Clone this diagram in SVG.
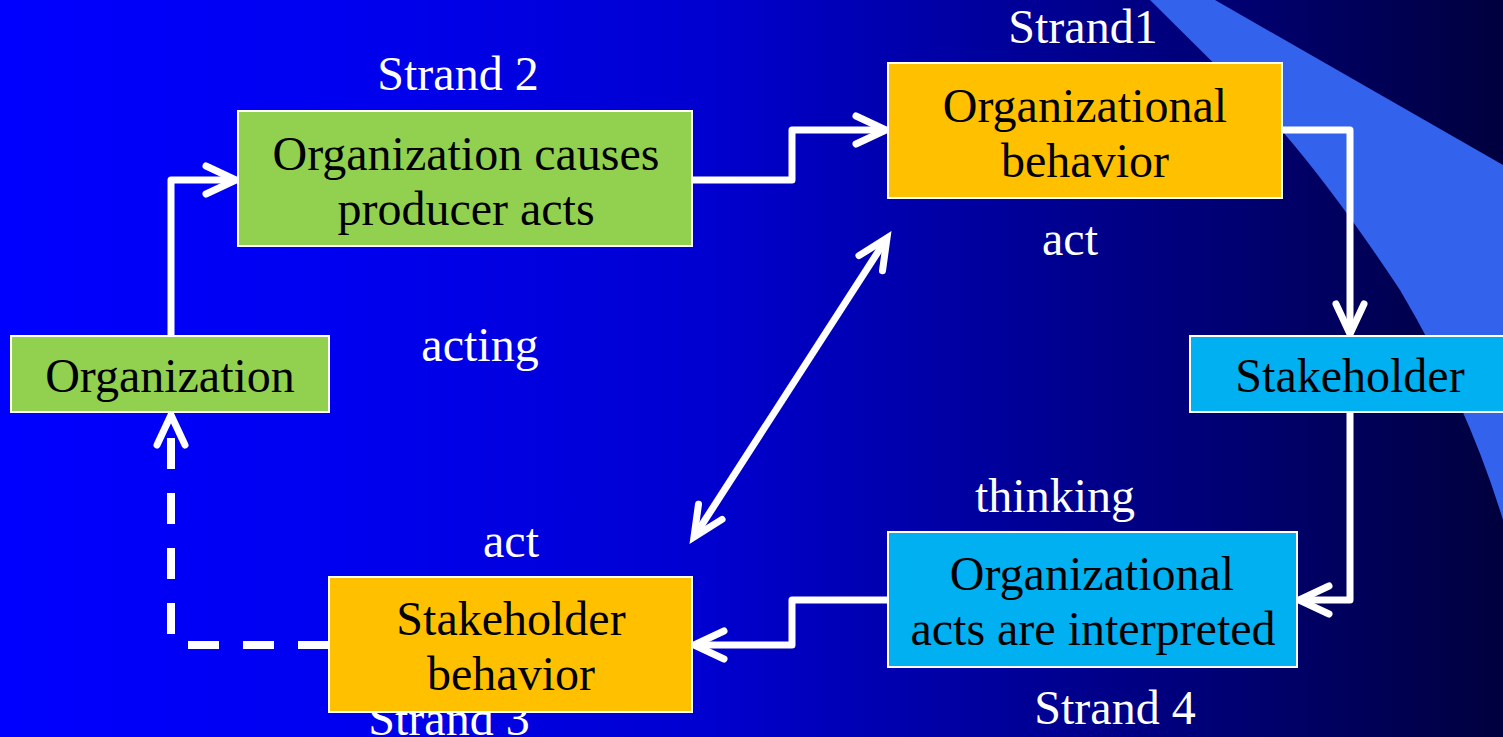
<svg xmlns="http://www.w3.org/2000/svg" width="1503" height="737" viewBox="0 0 1503 737">
  <style>
    .box { stroke: #ffffff; stroke-width: 2; }
    .green { fill: #92D050; }
    .orange { fill: #FFC000; }
    .cyan { fill: #00B0F0; }
    text { font-family: 'Liberation Serif', 'DejaVu Serif', 'Times New Roman', serif; font-size: 48px; text-anchor: middle; }
    .node-text { fill: #000000; }
    .label { fill: #ffffff; }
    .link { fill: none; stroke: #ffffff; stroke-width: 7; stroke-linejoin: round; }
    .dashed { fill: none; stroke: #ffffff; stroke-width: 8; stroke-dasharray: 31 24; }
  </style>
  <defs>
    <linearGradient id="bg" x1="0" y1="0" x2="1" y2="0">
      <stop offset="0" stop-color="#0000FF"/>
      <stop offset="0.23" stop-color="#0000F0"/>
      <stop offset="0.47" stop-color="#0000D0"/>
      <stop offset="0.67" stop-color="#00009A"/>
      <stop offset="0.83" stop-color="#000070"/>
      <stop offset="1" stop-color="#00003E"/>
    </linearGradient>
    <marker id="arrow" markerUnits="userSpaceOnUse" viewBox="-40 -20 44 40" refX="0" refY="0" markerWidth="44" markerHeight="40" orient="auto-start-reverse" overflow="visible">
      <path d="M -30 -14 L 0 0 L -30 14" fill="none" stroke="#ffffff" stroke-width="7" stroke-linecap="round" stroke-linejoin="miter"/>
    </marker>
  </defs>

  <!-- backdrop -->
  <rect x="0" y="0" width="1503" height="737" fill="url(#bg)"/>
  <path d="M 1150 0 L 1215 0 L 1503 165 L 1503 520 Q 1468 405 1400 290 Q 1337 195 1283 132 Z" fill="#3363EC"/>

  <!-- free labels (drawn below the boxes) -->
  <g id="labels">
    <text class="label" x="458" y="90">Strand 2</text>
    <text class="label" x="1083" y="43">Strand1</text>
    <text class="label" x="1070" y="255">act</text>
    <text class="label" x="480" y="361">acting</text>
    <text class="label" x="1055" y="512">thinking</text>
    <text class="label" x="511" y="557">act</text>
    <text class="label" x="1115" y="724">Strand 4</text>
    <text class="label" x="449" y="735">Strand 3</text>
  </g>

  <!-- connectors -->
  <g id="connectors">
    <path class="link" d="M 171 336 L 171 180 L 236 180" marker-end="url(#arrow)"/>
    <path class="link" d="M 692 180 L 792 180 L 792 130 L 886 130" marker-end="url(#arrow)"/>
    <path class="link" d="M 1282 130 L 1350 130 L 1350 334" marker-end="url(#arrow)"/>
    <path class="link" d="M 1350 412 L 1350 600 L 1299 600" marker-end="url(#arrow)"/>
    <path class="link" d="M 888 600 L 792 600 L 792 645 L 694 645" marker-end="url(#arrow)"/>
    <path class="link" d="M 694 537 L 887 238" marker-start="url(#arrow)" marker-end="url(#arrow)"/>
    <path class="dashed" d="M 329 645 L 186 645"/>
    <path class="dashed" d="M 171 634 L 171 415" marker-end="url(#arrow)"/>
  </g>

  <g id="node-producer-acts">
    <rect class="box green" x="238" y="111" width="454" height="135"/>
    <text class="node-text" x="466" y="170">Organization causes</text>
    <text class="node-text" x="466" y="225">producer acts</text>
  </g>

  <g id="node-org-behavior">
    <rect class="box orange" x="888" y="63" width="394" height="135"/>
    <text class="node-text" x="1085" y="122">Organizational</text>
    <text class="node-text" x="1085" y="177">behavior</text>
  </g>

  <g id="node-stakeholder">
    <rect class="box cyan" x="1190" y="336" width="320" height="76"/>
    <text class="node-text" x="1350" y="392">Stakeholder</text>
  </g>

  <g id="node-interpreted">
    <rect class="box cyan" x="888" y="532" width="409" height="135"/>
    <text class="node-text" x="1092" y="590">Organizational</text>
    <text class="node-text" x="1093" y="645">acts are interpreted</text>
  </g>

  <g id="node-stakeholder-behavior">
    <rect class="box orange" x="329" y="577" width="363" height="135"/>
    <text class="node-text" x="511" y="635">Stakeholder</text>
    <text class="node-text" x="511" y="690">behavior</text>
  </g>

  <g id="node-organization">
    <rect class="box green" x="11" y="336" width="318" height="76"/>
    <text class="node-text" x="170" y="392">Organization</text>
  </g>
</svg>
